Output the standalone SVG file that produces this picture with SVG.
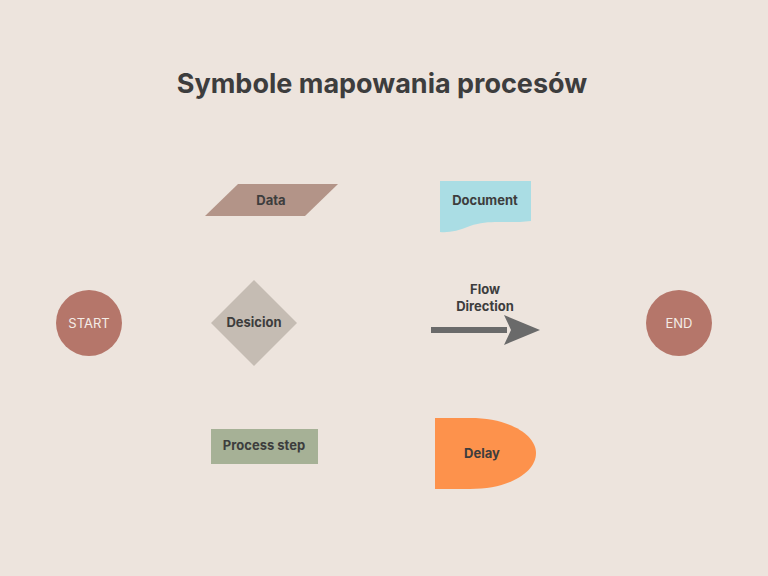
<svg xmlns="http://www.w3.org/2000/svg" width="768" height="576" viewBox="0 0 768 576">
<style>
.t{font-family:"Inter","Liberation Sans",sans-serif;font-weight:bold;font-size:13px;fill:#3d3d3d;text-anchor:middle}
.w{font-family:"Inter","Liberation Sans",sans-serif;font-size:13px;fill:#f4ece6;text-anchor:middle}
</style>
<rect width="768" height="576" fill="#ede4dd"/>
<text x="382" y="93" style="font-family:Inter,'Liberation Sans',sans-serif;font-weight:bold;font-size:27px;fill:#3d3d3d;text-anchor:middle">Symbole mapowania procesów</text>
<g id="start"><circle cx="89" cy="323" r="33" fill="#b5766a"/><text class="w" x="89" y="328">START</text></g>
<g id="end"><circle cx="679" cy="323" r="33" fill="#b5766a"/><text class="w" x="679" y="328">END</text></g>
<g id="data"><polygon points="238,184 338,184 305,216 205,216" fill="#b39488"/><text class="t" x="271" y="205">Data</text></g>
<g id="document"><path d="M440,181 H531 V221 C505,224 490,219 470,226 C458,231 448,233 440,232 Z" fill="#aadde4"/><text class="t" x="485" y="205">Document</text></g>
<g id="decision"><polygon points="254,280 297,323 254,366 211,323" fill="#c5bcb3"/><text class="t" x="254" y="327">Desicion</text></g>
<g id="process"><rect x="211" y="429" width="107" height="35" fill="#a6b196"/><text class="t" x="264" y="450">Process step</text></g>
<g id="delay"><path d="M435,418 H470 C510,418 536,435 536,453 C536,472 510,489 470,489 H435 Z" fill="#fd924c"/><text class="t" x="482" y="458">Delay</text></g>
<g id="connectors">
<text class="t" x="485" y="294">Flow</text><text class="t" x="485" y="311">Direction</text>
<rect x="431" y="327" width="76" height="6" fill="#6a6a6a"/>
<polygon points="504,315 540,330 504,345 511,330" fill="#6a6a6a"/>
</g>
</svg>
